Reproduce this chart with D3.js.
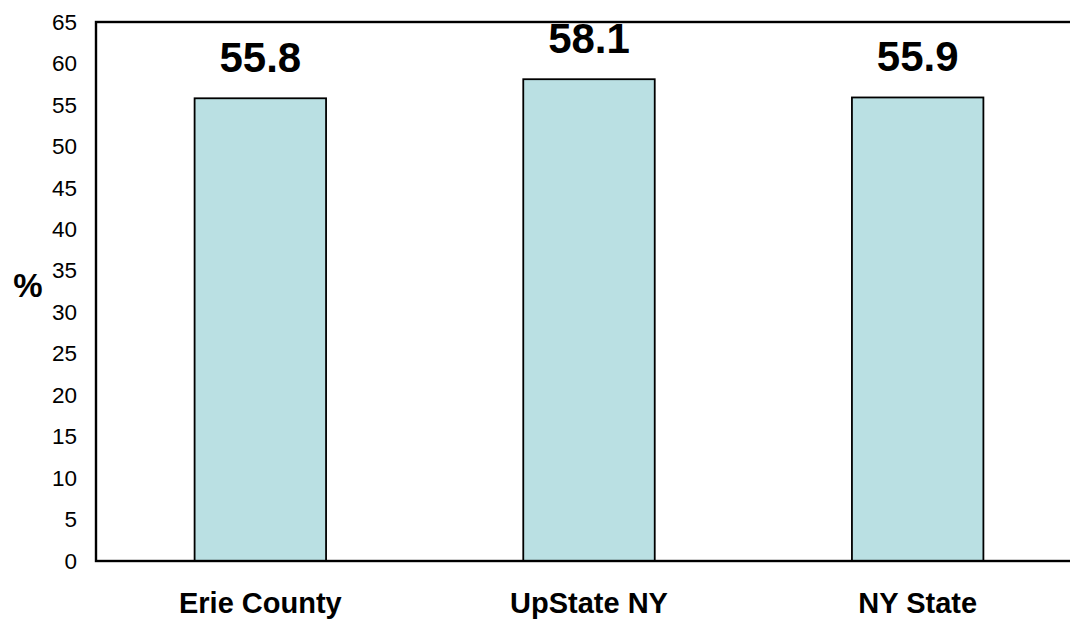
<!DOCTYPE html>
<html>
<head>
<meta charset="utf-8">
<script src="https://cdn.jsdelivr.net/npm/d3@7"></script>
<style>
  html, body { margin: 0; padding: 0; background: #fff; }
  svg { display: block; font-family: Arial, "Liberation Sans", sans-serif; }
</style>
</head>
<body>
<svg id="chart" width="1070" height="619"></svg>
<script>
// Share (%) by region
const categories = ["Erie County", "UpState NY", "NY State"];
const values = [55.8, 58.1, 55.9];
const yTicks = [0, 5, 10, 15, 20, 25, 30, 35, 40, 45, 50, 55, 60, 65];
const yLabel = "%";

const svg = d3.select("#chart");
const plot = { left: 96, top: 22, right: 1082, bottom: 561 };

const x = d3.scaleBand()
  .domain(categories)
  .range([plot.left, plot.right])
  .paddingInner(0.6)
  .paddingOuter(0.3);

const y = d3.scaleLinear()
  .domain([0, 65])
  .range([plot.bottom, plot.top]);

// Bars
svg.append("g")
  .selectAll("rect")
  .data(values)
  .join("rect")
  .attr("x", (d, i) => x(categories[i]))
  .attr("y", d => y(d))
  .attr("width", x.bandwidth())
  .attr("height", d => y(0) - y(d))
  .attr("fill", "#bae0e3")
  .attr("stroke", "#000")
  .attr("stroke-width", 1.8);

// Frame (left, top, bottom edges visible)
svg.append("rect")
  .attr("x", plot.left)
  .attr("y", plot.top)
  .attr("width", plot.right - plot.left)
  .attr("height", plot.bottom - plot.top)
  .attr("fill", "none")
  .attr("stroke", "#000")
  .attr("stroke-width", 2.4);

// Y axis labels
const yAxis = d3.axisLeft(y).tickValues(yTicks).tickSize(0).tickPadding(19);
const gy = svg.append("g")
  .attr("transform", `translate(${plot.left},0)`)
  .call(yAxis);
gy.select(".domain").remove();
gy.selectAll("text")
  .attr("font-family", "Arial, 'Liberation Sans', sans-serif")
  .attr("font-size", 22.5)
  .attr("fill", "#000");

// X axis category labels
const xAxis = d3.axisBottom(x).tickSize(0).tickPadding(0);
const gx = svg.append("g")
  .attr("transform", `translate(0,${plot.bottom})`)
  .call(xAxis);
gx.select(".domain").remove();
gx.selectAll("text")
  .attr("dy", null)
  .attr("y", 52)
  .attr("font-family", "Arial, 'Liberation Sans', sans-serif")
  .attr("font-size", 29)
  .attr("font-weight", "bold")
  .attr("fill", "#000");

// Value labels
svg.append("g")
  .selectAll("text")
  .data(values)
  .join("text")
  .attr("x", (d, i) => x(categories[i]) + x.bandwidth() / 2)
  .attr("y", d => y(d) - 26)
  .attr("text-anchor", "middle")
  .attr("font-size", 42)
  .attr("font-weight", "bold")
  .attr("fill", "#000")
  .text(d => d.toFixed(1));

// Y axis title
svg.append("text")
  .attr("x", 28)
  .attr("y", 297)
  .attr("text-anchor", "middle")
  .attr("font-size", 33)
  .attr("font-weight", "bold")
  .attr("fill", "#000")
  .text(yLabel);
</script>
</body>
</html>
